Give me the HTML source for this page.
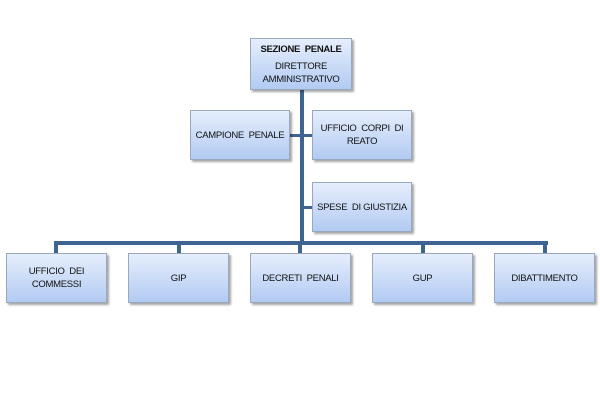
<!DOCTYPE html>
<html><head><style>
body{margin:0;width:600px;height:400px;background:#fff;position:relative;overflow:hidden;font-family:"Liberation Sans",sans-serif;}
.b{position:absolute;box-sizing:border-box;border:1px solid #9aa8bd;background:linear-gradient(#e6eefc,#b2cbf3);box-shadow:2px 2px 2px rgba(0,0,0,.35);display:flex;flex-direction:column;align-items:center;justify-content:center;text-align:center;font-size:9.5px;letter-spacing:-0.3px;line-height:13px;color:#111;white-space:nowrap;}
.l{position:absolute;background:#3e6592;}
</style></head><body>
<div class="l" style="left:300px;top:88px;width:4px;height:156px"></div>
<div class="l" style="left:54px;top:241px;width:494px;height:4px"></div>
<div class="l" style="left:288px;top:134px;width:26px;height:3px"></div>
<div class="l" style="left:302px;top:206px;width:12px;height:3px"></div>
<div class="l" style="left:54px;top:241px;width:4px;height:13px"></div>
<div class="l" style="left:177px;top:241px;width:4px;height:13px"></div>
<div class="l" style="left:298px;top:241px;width:4px;height:13px"></div>
<div class="l" style="left:421px;top:241px;width:4px;height:13px"></div>
<div class="l" style="left:543px;top:241px;width:4px;height:13px"></div>
<div class="b" style="left:250px;top:38px;width:102px;height:52px"><b>SEZIONE&nbsp; PENALE</b><div style="margin-top:4px">DIRETTORE<br>AMMINISTRATIVO</div></div>
<div class="b" style="left:190px;top:110px;width:100px;height:50px">CAMPIONE&nbsp; PENALE</div>
<div class="b" style="left:312px;top:110px;width:100px;height:50px">UFFICIO&nbsp; CORPI&nbsp; DI<br>REATO</div>
<div class="b" style="left:312px;top:182px;width:100px;height:50px">SPESE&nbsp; DI GIUSTIZIA</div>
<div class="b" style="left:6px;top:253px;width:101px;height:50px">UFFICIO&nbsp; DEI<br>COMMESSI</div>
<div class="b" style="left:128px;top:253px;width:101px;height:50px">GIP</div>
<div class="b" style="left:250px;top:253px;width:101px;height:50px">DECRETI&nbsp; PENALI</div>
<div class="b" style="left:372px;top:253px;width:101px;height:50px">GUP</div>
<div class="b" style="left:494px;top:253px;width:101px;height:50px">DIBATTIMENTO</div>
</body></html>
